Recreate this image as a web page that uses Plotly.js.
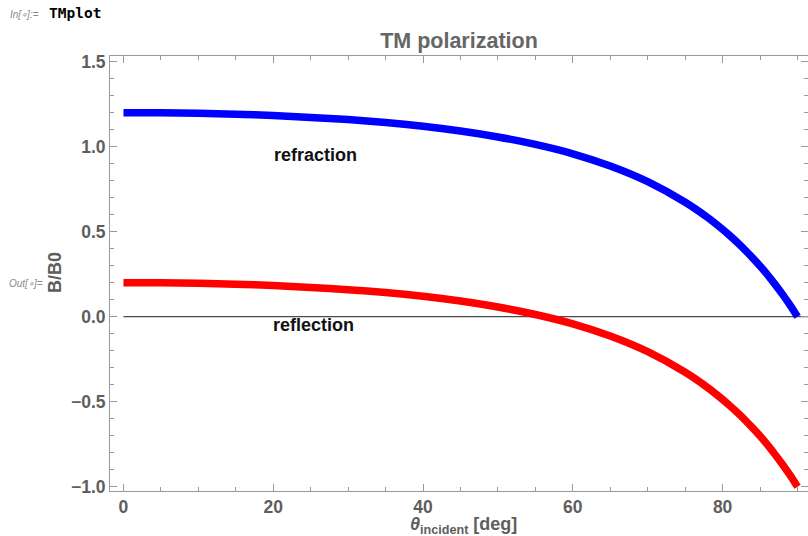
<!DOCTYPE html>
<html>
<head>
<meta charset="utf-8">
<script src="https://cdn.plot.ly/plotly-3.0.1.min.js"></script>
<style>html,body{margin:0;padding:0;background:#fff;}#chart{width:808px;height:536px;}</style>
</head>
<body>
<div id="chart"></div>
<script>
// incidence angle (deg)
var angles = [0, 5, 10, 15, 20, 25, 30, 35, 40, 45, 50, 55, 60, 65, 70, 75, 78, 80, 81, 82, 83, 84, 85, 86, 87, 88, 89, 90];
// reflection B/B0 (red)
var reflection = [0.200, 0.199, 0.196, 0.191, 0.183, 0.172, 0.159, 0.142, 0.120, 0.092, 0.057, 0.013, -0.042, -0.114, -0.206, -0.327, -0.417, -0.487, -0.525, -0.565, -0.608, -0.654, -0.702, -0.754, -0.810, -0.869, -0.932, -1.000];
// refraction B/B0 (blue)
var refraction = [1.200, 1.199, 1.196, 1.191, 1.183, 1.172, 1.159, 1.142, 1.120, 1.092, 1.057, 1.013, 0.958, 0.886, 0.794, 0.673, 0.583, 0.513, 0.475, 0.435, 0.392, 0.346, 0.298, 0.246, 0.190, 0.131, 0.068, 0.000];

var xTickVals = [0, 20, 40, 60, 80];
var yTickVals = [-1.0, -0.5, 0.0, 0.5, 1.0, 1.5];

var labelFont = {family: 'Liberation Sans, Arial, sans-serif', size: 17.5, color: '#5e5e5e', weight: 'bold'};

var traces = [
  {x: angles, y: refraction, mode: 'lines', line: {color: '#0000ff', width: 7.5, shape: 'spline', smoothing: 0.6}, hoverinfo: 'skip', showlegend: false},
  {x: angles, y: reflection, mode: 'lines', line: {color: '#ff0000', width: 7.5, shape: 'spline', smoothing: 0.6}, hoverinfo: 'skip', showlegend: false}
];

var axisCommon = {
  showline: true, mirror: 'allticks', linecolor: '#9a9a9a', linewidth: 1,
  ticks: 'inside', ticklen: 7, tickcolor: '#9a9a9a', tickwidth: 1,
  showgrid: false, zeroline: false, tickfont: labelFont
};

var layout = {
  width: 808, height: 536,
  margin: {l: 110, r: 0, t: 56, b: 45, pad: 0},
  paper_bgcolor: '#ffffff', plot_bgcolor: '#ffffff',
  title: {text: 'TM polarization', x: 0.5, xref: 'paper', y: 1 - 40/536, yref: 'container', yanchor: 'middle',
          font: {family: 'Liberation Sans, Arial, sans-serif', size: 21.5, color: '#666666', weight: 'bold'}},
  xaxis: Object.assign({}, axisCommon, {
    range: [-1.8, 91.4], tickmode: 'array', tickvals: xTickVals, ticktext: xTickVals.map(String),
    minor: {dtick: 5, tick0: 0, ticks: 'inside', ticklen: 4, tickcolor: '#9a9a9a', showgrid: false}
  }),
  yaxis: Object.assign({}, axisCommon, {
    range: [-1.025, 1.533], tickmode: 'array', tickvals: yTickVals, ticktext: yTickVals.map(function(v){return (v < 0 ? '\u2212' : '') + Math.abs(v).toFixed(1);}),
    minor: {dtick: 0.1, tick0: 0, ticks: 'inside', ticklen: 4, tickcolor: '#9a9a9a', showgrid: false}
  }),
  shapes: [
    {type: 'line', xref: 'x', yref: 'y', x0: 0, x1: 91.4, y0: 0, y1: 0, line: {color: '#4a4a4a', width: 1.3}, layer: 'below'}
  ],
  annotations: [
    {text: 'refraction', xref: 'x', yref: 'y', x: 25.6, y: 0.951, showarrow: false, xanchor: 'center', yanchor: 'middle',
     font: {family: 'Liberation Sans, Arial, sans-serif', size: 18, color: '#111111', weight: 'bold'}},
    {text: 'reflection', xref: 'x', yref: 'y', x: 25.4, y: -0.049, showarrow: false, xanchor: 'center', yanchor: 'middle',
     font: {family: 'Liberation Sans, Arial, sans-serif', size: 18, color: '#111111', weight: 'bold'}},
    {text: 'B/B0', xref: 'paper', yref: 'paper', x: (55 - 110)/698, y: (491 - 273)/435, textangle: -90, showarrow: false,
     xanchor: 'center', yanchor: 'middle', font: {family: 'Liberation Sans, Arial, sans-serif', size: 18, color: '#5e5e5e', weight: 'bold'}},
    {text: '<i>θ</i><sub>incident</sub> [deg]', xref: 'paper', yref: 'paper', x: (463 - 110)/698, y: (491 - 525)/435, showarrow: false,
     xanchor: 'center', yanchor: 'middle', font: {family: 'Liberation Sans, Arial, sans-serif', size: 18, color: '#5e5e5e', weight: 'bold'}},
    {text: '<i>In[∘]:=</i>', xref: 'paper', yref: 'paper', x: (8 - 110)/698, y: (491 - 14)/435, showarrow: false,
     xanchor: 'left', yanchor: 'middle', font: {family: 'Liberation Sans, Arial, sans-serif', size: 10, color: '#8a8a8a'}},
    {text: 'TMplot', xref: 'paper', yref: 'paper', x: (47 - 110)/698, y: (491 - 13)/435, showarrow: false,
     xanchor: 'left', yanchor: 'middle', font: {family: 'DejaVu Sans Mono, monospace', size: 14.5, color: '#000000', weight: 'bold'}},
    {text: '<i>Out[∘]=</i>', xref: 'paper', yref: 'paper', x: (7 - 110)/698, y: (491 - 283)/435, showarrow: false,
     xanchor: 'left', yanchor: 'middle', font: {family: 'Liberation Sans, Arial, sans-serif', size: 10, color: '#8a8a8a'}}
  ]
};

Plotly.newPlot('chart', traces, layout, {displayModeBar: false, staticPlot: true});
</script>
</body>
</html>
